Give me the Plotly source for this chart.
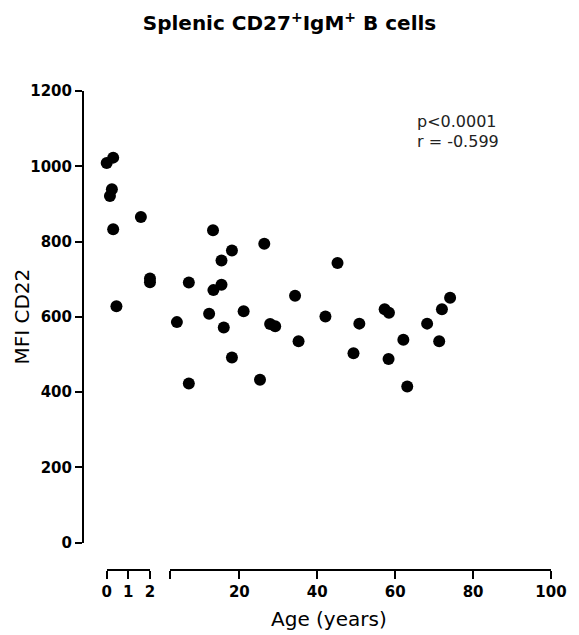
import plotly.graph_objects as go

# Infants (0-2 years) drawn on the short left axis segment
infant_age = [0.0, 0.3, 0.24, 0.15, 0.3, 1.58, 0.45, 2.0, 2.0]
infant_mfi = [1009, 1023, 939, 921, 833, 865, 628, 702, 692]

# Children and adults (> 2 years) drawn on the long right axis segment
age = [3.97, 7.03, 7.03, 12.24, 13.24, 13.34, 15.42, 15.42, 16.0, 18.1, 18.1,
       21.1, 25.3, 26.4, 27.9, 29.2, 34.3, 35.2, 42.1, 45.2, 49.3, 50.8,
       57.3, 58.4, 58.3, 62.1, 63.1, 68.2, 71.3, 72.0, 74.1]
mfi = [586, 691, 423, 608, 830, 671, 685, 750, 572, 776, 492,
       615, 433, 794, 581, 575, 656, 535, 601, 743, 503, 582,
       620, 611, 488, 539, 415, 582, 535, 620, 651]

y_ticks = [0, 200, 400, 600, 800, 1000, 1200]
x1_ticks = [0, 1, 2]
x2_ticks = [2.14, 20, 40, 60, 80, 100]
x2_labels = ["", "20", "40", "60", "80", "100"]

title_text = "Splenic CD27<sup>+</sup>IgM<sup>+</sup> B cells"
stats_lines = ["p&lt;0.0001", "r = -0.599"]

FONT = "DejaVu Sans"
W, H = 579, 635
ML, MR, MT, MB = 83, 16, 91, 65
plot_w = W - ML - MR
plot_h = H - MT - MB


def px_x(px):
    return (px - ML) / plot_w


def px_y(py):
    return (H - MB - py) / plot_h


marker = dict(size=12, color="black")

fig = go.Figure()
fig.add_trace(go.Scatter(x=infant_age, y=infant_mfi, mode="markers", marker=marker,
                         xaxis="x", yaxis="y", cliponaxis=False, showlegend=False))
fig.add_trace(go.Scatter(x=age, y=mfi, mode="markers", marker=marker,
                         xaxis="x2", yaxis="y", cliponaxis=False, showlegend=False))

axis_common = dict(showline=True, linecolor="black", linewidth=2, ticks="outside",
                   tickcolor="black", tickwidth=2, showgrid=False, zeroline=False,
                   tickfont=dict(family=FONT, size=15, color="black", weight="bold"))

fig.update_layout(
    width=W, height=H,
    margin=dict(l=ML, r=MR, t=MT, b=MB),
    paper_bgcolor="white", plot_bgcolor="white",
    xaxis=dict(domain=[px_x(107.3), px_x(151.7)], range=[0, 2],
               tickvals=x1_ticks, ticklen=8, anchor="free", position=0,
               **axis_common),
    xaxis2=dict(domain=[px_x(172), 1.0], range=[2.14, 100],
                tickvals=x2_ticks, ticktext=x2_labels, ticklen=8,
                anchor="free", position=0, **axis_common),
    yaxis=dict(domain=[px_y(542.7), 1.0], range=[0, 1200], tickvals=y_ticks,
               ticklen=7, anchor="free", position=0, **axis_common),
    title=dict(text=title_text, x=0.5, xanchor="center", xref="container",
               y=1 - 23 / H, yanchor="middle", yref="container",
               font=dict(family=FONT, size=20, color="black", weight="bold")),
)

fig.add_annotation(text="Age (years)", xref="paper", yref="paper",
                   x=px_x(335), y=px_y(619), xanchor="center", yanchor="middle",
                   showarrow=False, font=dict(family=FONT, size=20, color="black"))
fig.add_annotation(text="MFI CD22", xref="paper", yref="paper", textangle=-90,
                   x=px_x(20), y=px_y(317), xanchor="center", yanchor="middle",
                   showarrow=False, font=dict(family=FONT, size=20, color="black"))

for line, cy in zip(stats_lines, [121.5, 141.5]):
    fig.add_annotation(text=line, xref="paper", yref="paper",
                       x=px_x(424), y=px_y(cy), xanchor="left", yanchor="middle",
                       showarrow=False,
                       font=dict(family=FONT, size=16, color="#222222"))

fig.write_html("out.html")
